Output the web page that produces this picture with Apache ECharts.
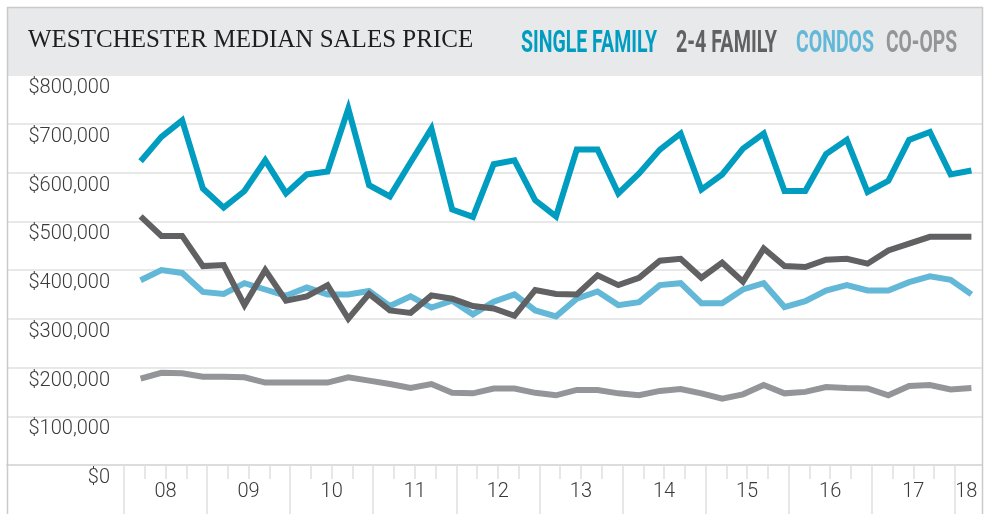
<!DOCTYPE html>
<html>
<head>
<meta charset="utf-8">
<title>Westchester Median Sales Price</title>
<script src="https://cdn.jsdelivr.net/npm/echarts@6/dist/echarts.min.js"></script>
<style>
  html, body { margin: 0; padding: 0; background: #fff; }
  #chart { width: 994px; height: 514px; }
</style>
</head>
<body>
<div id="chart"></div>
<script>
// quarterly medians, 2008 Q1 .. 2018 Q1
const yearLabels = ['08', '09', '10', '11', '12', '13', '14', '15', '16', '17', '18']
const seriesNames = ['SINGLE FAMILY', '2-4 FAMILY', 'CONDOS', 'CO-OPS']

const singleFamily = [
  623000, 673000, 707000, 567000, 528000, 562000, 625000, 557000, 596000, 602000,
  731000, 574000, 551000, 621000, 690000, 524000, 509000, 617000, 625000, 543000, 510000,
  647000, 647000, 557000, 598000, 647000, 680000, 565000, 596000, 649000, 680000,
  562000, 562000, 638000, 667000, 560000, 583000, 667000, 683000, 596000, 604000
]
const twoToFourFamily = [
  510000, 470000, 470000, 408000, 410000, 328000, 400000, 337000, 346000, 369000,
  300000, 351000, 317000, 312000, 348000, 341000, 326000, 321000, 306000, 359000, 351000,
  350000, 389000, 369000, 384000, 419000, 423000, 384000, 415000, 376000, 444000,
  408000, 406000, 421000, 423000, 413000, 440000, 454000, 468000, 468000, 468000
]
const condos = [
  379000, 400000, 394000, 355000, 351000, 373000, 360000, 347000, 364000, 350000,
  350000, 357000, 326000, 346000, 323000, 337000, 309000, 335000, 350000, 317000, 305000,
  341000, 356000, 328000, 334000, 369000, 373000, 332000, 332000, 360000, 373000,
  324000, 336000, 358000, 369000, 358000, 358000, 375000, 387000, 380000, 350000
]
const coops = [
  177000, 189000, 188000, 181000, 181000, 180000, 169000, 169000, 169000, 169000,
  180000, 173000, 166000, 158000, 166000, 148000, 147000, 157000, 157000, 148000, 143000,
  154000, 154000, 147000, 143000, 152000, 156000, 147000, 136000, 145000, 164000,
  147000, 150000, 160000, 158000, 157000, 143000, 162000, 164000, 155000, 158000
]

const colors = ['#009dc1', '#616163', '#62b8d6', '#939598']

// x axis runs in quarters from the start of 2008
const X_MAX = 41.1
const POINT_SHIFT = 0.8 // points sit late in each quarter

const quarterTicks = []
const yearTicks = []
for (let q = 0; q <= 40; q++) {
  if (q % 4 === 0) yearTicks.push(q)
  else quarterTicks.push(q)
}
const yearCenters = yearLabels.map((_, k) => (4 * k + Math.min(4 * k + 4, X_MAX)) / 2)

const toPoints = values => values.map((v, i) => [i + POINT_SHIFT, v])

// squeeze the bold legend words into a condensed look
const measureCtx = document.createElement('canvas').getContext('2d')
function squeeze(text, font, width) {
  measureCtx.font = font
  return width / measureCtx.measureText(text).width
}
const legendFont = 'bold 32px Roboto'
const legendLeft = [521, 676, 796, 886]
const legendWidth = [136, 101, 78, 71]

const tickStyle = { color: '#e0e0e0', width: 1.5 }
const frameColor = '#cacaca'
const labelFont = { fontFamily: 'Roboto', fontWeight: 300, fontSize: 20, color: '#3a3a3a' }

const chart = echarts.init(document.getElementById('chart'))
chart.setOption({
  animation: false,
  title: {
    text: 'WESTCHESTER MEDIAN SALES PRICE',
    left: 28,
    top: 28,
    padding: 0,
    z: 8,
    textStyle: {
      fontFamily: 'Liberation Serif',
      fontSize: 25,
      fontWeight: 'normal',
      color: '#1e1e1e'
    }
  },
  grid: [
    { left: 7, right: 12, top: 75, bottom: 49 },
    { left: 124, right: 994 - 124 - 20.77 * X_MAX, top: 75, bottom: 49 }
  ],
  xAxis: [
    {
      gridIndex: 0,
      type: 'value',
      position: 'bottom',
      min: 0,
      max: 1,
      axisLine: { show: true, lineStyle: { color: '#dcdcdc', width: 2 } },
      axisTick: { show: false },
      axisLabel: { show: false },
      splitLine: { show: false }
    },
    {
      gridIndex: 1,
      type: 'value',
      position: 'bottom',
      min: 0,
      max: X_MAX,
      axisLine: { show: false },
      axisTick: { show: true, customValues: quarterTicks, length: 14, lineStyle: tickStyle },
      axisLabel: { show: false },
      splitLine: { show: false }
    },
    {
      gridIndex: 1,
      type: 'value',
      position: 'bottom',
      min: 0,
      max: X_MAX,
      axisLine: { show: false },
      axisTick: { show: true, customValues: yearTicks, length: 49, lineStyle: tickStyle },
      axisLabel: {
        show: true,
        customValues: yearCenters,
        formatter: v => yearLabels[Math.floor(v / 4)],
        margin: 17,
        ...labelFont
      },
      splitLine: { show: false }
    }
  ],
  yAxis: [
    {
      gridIndex: 0,
      type: 'value',
      position: 'left',
      min: 0,
      max: 800000,
      interval: 100000,
      axisLine: { show: false },
      axisTick: { show: false },
      axisLabel: { show: false },
      splitLine: { lineStyle: { color: '#e8e8e8', width: 2 } }
    },
    {
      gridIndex: 1,
      type: 'value',
      position: 'left',
      min: 0,
      max: 800000,
      interval: 100000,
      axisLine: { show: false },
      axisTick: { show: false },
      splitLine: { show: false },
      axisLabel: {
        formatter: v => '$' + v.toLocaleString('en-US'),
        margin: 14,
        verticalAlign: 'top',
        padding: [3, 0, 0, 0],
        ...labelFont
      }
    }
  ],
  series: [
    { name: seriesNames[3], data: toPoints(coops), color: colors[3] },
    { name: seriesNames[2], data: toPoints(condos), color: colors[2] },
    { name: seriesNames[1], data: toPoints(twoToFourFamily), color: colors[1] },
    { name: seriesNames[0], data: toPoints(singleFamily), color: colors[0] }
  ].map(s => ({
    type: 'line',
    xAxisIndex: 1,
    yAxisIndex: 1,
    showSymbol: false,
    symbol: 'none',
    silent: true,
    lineStyle: { width: 6, join: 'miter', miterLimit: 10, cap: 'butt' },
    ...s
  })),
  graphic: [
    {
      type: 'rect',
      z: 5,
      shape: { x: 7, y: 7, width: 975.5, height: 68.5 },
      style: { fill: '#e8e9eb' }
    },
    {
      type: 'line',
      z: 6,
      shape: { x1: 7, y1: 7.5, x2: 983, y2: 7.5 },
      style: { stroke: frameColor, lineWidth: 1.5 }
    },
    {
      type: 'line',
      z: 6,
      shape: { x1: 7.5, y1: 7, x2: 7.5, y2: 514 },
      style: { stroke: frameColor, lineWidth: 1.5 }
    },
    {
      type: 'line',
      z: 6,
      shape: { x1: 982.5, y1: 7, x2: 982.5, y2: 514 },
      style: { stroke: frameColor, lineWidth: 1.5 }
    }
  ].concat(seriesNames.map((name, i) => ({
    type: 'text',
    z: 8,
    x: legendLeft[i],
    y: 44,
    scaleX: squeeze(name, legendFont, legendWidth[i]),
    style: {
      text: name,
      font: legendFont,
      fill: colors[i],
      align: 'left',
      verticalAlign: 'middle'
    }
  })))
})
</script>
</body>
</html>
